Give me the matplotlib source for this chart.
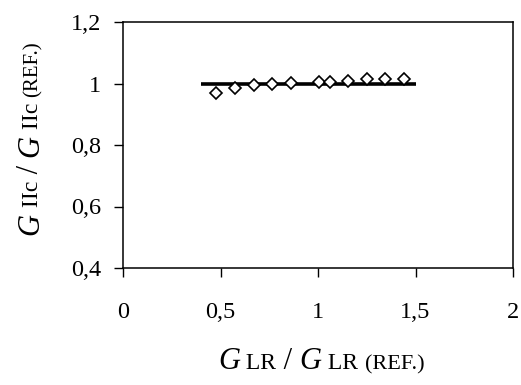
import matplotlib
matplotlib.use("Agg")
import matplotlib.pyplot as plt
from matplotlib.font_manager import FontProperties
from matplotlib.ticker import FuncFormatter

# data
x_vals = [0.478, 0.576, 0.672, 0.766, 0.861, 1.005, 1.062, 1.156, 1.251, 1.345, 1.440]
y_vals = [0.970, 0.986, 0.994, 0.998, 1.003, 1.006, 1.006, 1.008, 1.014, 1.014, 1.014]
ref_x = [0.4, 1.5]
ref_y = [1.0, 1.0]
x_ticks = [0, 0.5, 1, 1.5, 2]
y_ticks = [0.4, 0.6, 0.8, 1.0, 1.2]

SERIF = "Liberation Serif"

fig = plt.figure(figsize=(5.21, 3.85), dpi=100)
ax = fig.add_axes([123/521, 1 - 268/385, (513-123)/521, (268-22)/385])

ax.plot(ref_x, ref_y, color="black", lw=2.6, solid_capstyle="butt", zorder=2)
ax.plot(x_vals, y_vals, linestyle="none", marker="D", ms=6.6, mfc="white",
        mec="black", mew=1.2, zorder=3)

ax.set_xlim(0, 2)
ax.set_ylim(0.4, 1.2)
ax.set_xticks(x_ticks)
ax.set_yticks(y_ticks)

def fmt(v, pos):
    s = ("%.1f" % v).rstrip("0").rstrip(".")
    return s.replace(".", ",")

ax.xaxis.set_major_formatter(FuncFormatter(fmt))
ax.yaxis.set_major_formatter(FuncFormatter(fmt))
ax.tick_params(direction="out", length=6.5, width=1.0, color="black",
               labelsize=17.5)
ax.tick_params(axis="x", pad=18)
ax.tick_params(axis="y", pad=9)
for lab in ax.get_xticklabels() + ax.get_yticklabels():
    lab.set_fontfamily(SERIF)
for sp in ax.spines.values():
    sp.set_linewidth(1.1)
    sp.set_color("black")

renderer = fig.canvas.get_renderer()

def layout(pieces, cx, cy, rotation=0):
    props = []
    widths = []
    for t, size, style in pieces:
        fp = FontProperties(family=SERIF, size=size, style=style)
        w, h, d = renderer.get_text_width_height_descent(t, fp, ismath=False)
        props.append(fp)
        widths.append(w)
    total = sum(widths)
    pos = -total / 2.0
    for (t, size, style), fp, w in zip(pieces, props, widths):
        if rotation == 0:
            px, py = cx + pos, cy
        else:
            px, py = cx, cy + pos
        fig.text(px / fig.bbox.width, py / fig.bbox.height, t,
                 fontproperties=fp, rotation=rotation, rotation_mode="anchor",
                 ha="left", va="baseline", color="black")
        pos += w

xlabel_pieces = [("G", 22, "italic"), (" LR", 17, "normal"), (" / ", 22, "normal"),
                 ("G", 22, "italic"), (" LR", 17, "normal"), (" ", 22, "normal"),
                 ("(REF.)", 16, "normal")]
ylabel_pieces = [("G", 22, "italic"), (" IIc", 17, "normal"), (" / ", 22, "normal"),
                 ("G", 22, "italic"), (" IIc", 17, "normal"), (" ", 17, "normal"),
                 ("(REF.)", 15, "normal")]

H = fig.bbox.height
layout(xlabel_pieces, 321.5, H - 369)
layout(ylabel_pieces, 38, H - 138, rotation=90)

fig.savefig("out.png", dpi=100)
